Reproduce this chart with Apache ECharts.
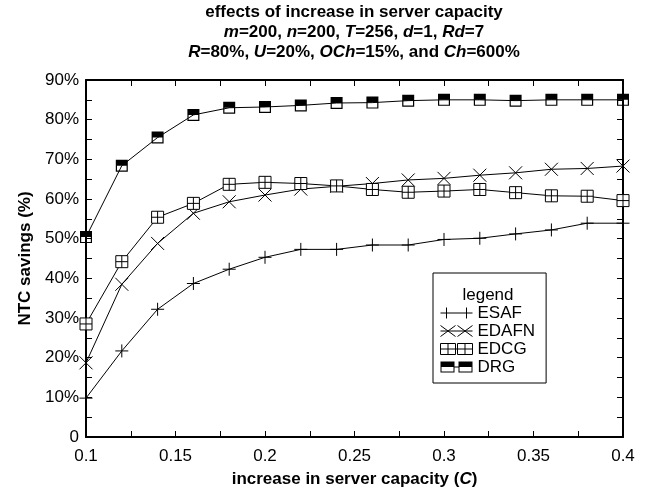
<!DOCTYPE html>
<html>
<head>
<meta charset="utf-8">
<script src="https://cdn.jsdelivr.net/npm/echarts@6/dist/echarts.min.js"></script>
<style>
  html, body { margin: 0; padding: 0; background: #fff; }
  #chart { width: 651px; height: 493px; }
</style>
</head>
<body>
<div id="chart"></div>
<script>
// server capacity increase (x axis)
var capacity = [0.1, 0.12, 0.14, 0.16, 0.18, 0.2, 0.22, 0.24, 0.26, 0.28, 0.3, 0.32, 0.34, 0.36, 0.38, 0.4];
// NTC savings in %
var esaf = [9.8, 21.7, 32.2, 38.7, 42.3, 45.3, 47.3, 47.3, 48.4, 48.4, 49.8, 50.1, 51.2, 52.2, 53.9, 53.9];
var edafn = [18.7, 38.5, 48.8, 56.4, 59.3, 61.0, 62.5, 63.2, 63.9, 64.8, 65.2, 66.0, 66.6, 67.5, 67.7, 68.3];
var edcg = [28.5, 44.2, 55.4, 58.9, 63.7, 64.2, 63.9, 63.3, 62.4, 61.7, 62.0, 62.4, 61.6, 60.8, 60.7, 59.6];
var drg = [50.4, 68.4, 75.5, 81.2, 83.0, 83.2, 83.6, 84.2, 84.3, 84.8, 85.0, 85.0, 84.8, 85.0, 85.0, 85.0];
var seriesNames = ["ESAF", "EDAFN", "EDCG", "DRG"];
var titleLines = [
  "effects of increase in server capacity",
  "{i|m}=200, {i|n}=200, {i|T}=256, {i|d}=1, {i|Rd}=7",
  "{i|R}=80%, {i|U}=20%, {i|OCh}=15%, and {i|Ch}=600%"
];

var FONT = "'Liberation Sans', Arial, sans-serif";

// marker shapes (gnuplot style)
var plusPath = "path://M0,5H10M5,0V10";
var crossPath = "path://M0,0L10,10M10,0L0,10";
var boxPlusPath = "path://M0,0H10V10H0ZM5,0V10M0,5H10";
var halfBoxPath = "path://M0,0H10V5H0ZM0,5H1V10H0ZM9,5H10V10H9ZM0,9H10V10H0Z";

// legend icons: two markers joined by a line (32 x 11)
var plusIcon = "path://M0,5.5H32M6,0V11M26,0V11";
var crossIcon = "path://M0,0L15,11M15,0L0,11M17,0L32,11M32,0L17,11M0,5.5H32";
var boxPlusIcon = "path://M0,0H15V11H0ZM7.5,0V11M0,5.5H15M17,0H32V11H17ZM24.5,0V11M17,5.5H32M15,5.5H17";
var halfBoxIcon = "path://M0,0H14V5.5H0ZM0,5.5H1V11H0ZM13,5.5H14V11H13ZM0,10H14V11H0Z" +
  "M18,0H32V5.5H18ZM18,5.5H19V11H18ZM31,5.5H32V11H31ZM18,10H32V11H18ZM14,5H18V6H14Z";

function pairs(vals) {
  return vals.map(function (v, i) { return [capacity[i], v]; });
}

function makeSeries(name, vals, symbol, size, fill, border) {
  return {
    name: name,
    type: "line",
    data: pairs(vals),
    symbol: symbol,
    symbolSize: size,
    showAllSymbol: true,
    lineStyle: { color: "#000", width: 1 },
    itemStyle: { color: fill, borderColor: "#000", borderWidth: border },
    emphasis: { disabled: true }
  };
}

var axisLine = { onZero: false, lineStyle: { color: "#000", width: 2 } };
var axisTick = { inside: true, length: 6, lineStyle: { color: "#000", width: 1 } };

var option = {
  animation: false,
  backgroundColor: "#fff",
  textStyle: { fontFamily: FONT },
  title: titleLines.map(function (t, i) {
    return {
      text: t,
      left: 354,
      textAlign: "center",
      top: 4 + i * 19.7,
      padding: 0,
      textStyle: {
        fontFamily: FONT, fontSize: 17, fontWeight: "bold", color: "#000",
        rich: { i: { fontFamily: FONT, fontSize: 17, fontWeight: "bold", fontStyle: "italic", color: "#000" } }
      }
    };
  }),
  grid: { left: 86, right: 28, top: 80, bottom: 56 },
  legend: {
    orient: "vertical",
    left: 433,
    top: 273,
    padding: [31, 11, 7, 7],
    borderColor: "#000",
    borderWidth: 1,
    itemWidth: 32,
    itemHeight: 11,
    itemGap: 0,
    selectedMode: false,
    textStyle: { fontFamily: FONT, fontSize: 17, color: "#000", lineHeight: 18 },
    data: [
      { name: seriesNames[0], icon: plusIcon, itemStyle: { color: "transparent", borderColor: "#000", borderWidth: 1 } },
      { name: seriesNames[1], icon: crossIcon, itemStyle: { color: "transparent", borderColor: "#000", borderWidth: 1 } },
      { name: seriesNames[2], icon: boxPlusIcon, itemStyle: { color: "#fff", borderColor: "#000", borderWidth: 1 } },
      { name: seriesNames[3], icon: halfBoxIcon, itemStyle: { color: "#000", borderWidth: 0 } }
    ]
  },
  graphic: [
    {
      type: "text", x: 488, y: 295, z: 100,
      style: { text: "legend", fontFamily: FONT, fontSize: 17, fill: "#000", align: "center", verticalAlign: "middle" }
    }
  ],
  xAxis: [
    {
      type: "value", position: "bottom", min: 0.1, max: 0.4, interval: 0.025,
      axisLine: axisLine, axisTick: axisTick, splitLine: { show: false },
      axisLabel: {
        color: "#000", fontSize: 17, margin: 11, showMinLabel: true, showMaxLabel: true,
        formatter: function (v) {
          return Math.round(v * 1000) % 50 === 0 ? String(+v.toFixed(2)) : "";
        }
      },
      name: "increase in server capacity ({i|C})",
      nameLocation: "middle",
      nameGap: 34,
      nameTextStyle: {
        fontFamily: FONT, fontSize: 17, fontWeight: "bold", color: "#000",
        rich: { i: { fontFamily: FONT, fontSize: 17, fontWeight: "bold", fontStyle: "italic", color: "#000" } }
      }
    },
    {
      type: "value", position: "top", min: 0.1, max: 0.4, interval: 0.025,
      axisLine: axisLine, axisTick: axisTick, splitLine: { show: false },
      axisLabel: { show: false }
    }
  ],
  yAxis: [
    {
      type: "value", position: "left", min: 0, max: 90, interval: 5,
      axisLine: axisLine, axisTick: axisTick, splitLine: { show: false },
      axisLabel: {
        color: "#000", fontSize: 17, margin: 7, showMinLabel: true, showMaxLabel: true,
        formatter: function (v) {
          if (v % 10 !== 0) return "";
          return v === 0 ? "0" : v + "%";
        }
      },
      name: "NTC savings (%)",
      nameLocation: "middle",
      nameGap: 44,
      nameTextStyle: { fontFamily: FONT, fontSize: 17, fontWeight: "bold", color: "#000" }
    },
    {
      type: "value", position: "right", min: 0, max: 90, interval: 5,
      axisLine: axisLine, axisTick: axisTick, splitLine: { show: false },
      axisLabel: { show: false }
    }
  ],
  series: [
    makeSeries(seriesNames[0], esaf, plusPath, 13, "transparent", 1),
    makeSeries(seriesNames[1], edafn, crossPath, 13, "transparent", 1),
    makeSeries(seriesNames[2], edcg, boxPlusPath, 12, "#fff", 1),
    makeSeries(seriesNames[3], drg, halfBoxPath, 12, "#000", 0)
  ]
};

var myChart = echarts.init(document.getElementById("chart"));
myChart.setOption(option);
</script>
</body>
</html>
